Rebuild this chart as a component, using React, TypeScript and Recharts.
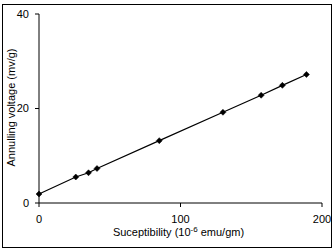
import { LineChart, Line, XAxis, YAxis } from "recharts";

const susceptibility = [0, 26, 35, 41, 85, 130, 157, 172, 189];
const voltage = [1.9, 5.5, 6.4, 7.3, 13.2, 19.2, 22.8, 24.9, 27.2];
const xTicks = [0, 100, 200];
const yTicks = [0, 20, 40];

const data = susceptibility.map((x, i) => ({ x, y: voltage[i] }));

const font = "'Liberation Sans', Arial, sans-serif";

const Diamond = (props: any) => {
  const { cx, cy, index } = props;
  if (cx == null || cy == null) return null;
  const r = 3;
  return (
    <path
      key={`d-${index}`}
      d={`M${cx} ${cy - r} L${cx + r} ${cy} L${cx} ${cy + r} L${cx - r} ${cy} Z`}
      fill="#000"
      stroke="#000"
      strokeWidth={0.5}
    />
  );
};

const YLabel = (props: any) => {
  const vb = props.viewBox || {};
  const cx = 11;
  const cy = vb.y + vb.height / 2 - 1;
  return (
    <text
      x={cx}
      y={cy}
      transform={`rotate(-90 ${cx} ${cy})`}
      textAnchor="middle"
      dominantBaseline="central"
      fontSize={11}
      fontFamily={font}
      fill="#000"
    >
      Annulling voltage (mv/g)
    </text>
  );
};

const XLabel = (props: any) => {
  const vb = props.viewBox || {};
  const cx = vb.x + vb.width / 2 - 2;
  return (
    <text x={cx} y={236} textAnchor="middle" fontSize={11} fontFamily={font} fill="#000">
      <tspan>Suceptibility (10</tspan>
      <tspan dy={-4} fontSize={8}>-6</tspan>
      <tspan dy={4}> emu/gm)</tspan>
    </text>
  );
};

const App = () => {
  return (
    <div style={{ position: "absolute", left: 0, top: 0, width: 336, height: 252, background: "#fff" }}>
      <div
        style={{
          position: "absolute",
          left: 2,
          top: 4,
          width: 328,
          height: 242,
          border: "1px solid #000",
        }}
      />
      <div style={{ position: "absolute", left: 0, top: 0 }}>
        <LineChart
          width={336}
          height={252}
          data={data}
          margin={{ top: 14, right: 14, left: 0, bottom: 0 }}
        >
          <XAxis
            dataKey="x"
            type="number"
            domain={[0, 200]}
            ticks={xTicks}
            height={49}
            tickSize={4}
            tickMargin={8}
            axisLine={{ stroke: "#000" }}
            tickLine={{ stroke: "#000" }}
            tick={{ fontSize: 11, fill: "#000", fontFamily: font }}
            label={{ content: XLabel }}
          />
          <YAxis
            type="number"
            domain={[0, 40]}
            ticks={yTicks}
            width={39}
            tickSize={4}
            tickMargin={6}
            axisLine={{ stroke: "#000" }}
            tickLine={{ stroke: "#000" }}
            tick={{ fontSize: 11, fill: "#000", fontFamily: font }}
            label={{ content: YLabel }}
          />
          <Line
            dataKey="y"
            type="linear"
            stroke="#000"
            strokeWidth={1.2}
            dot={Diamond}
            activeDot={false}
            isAnimationActive={false}
          />
        </LineChart>
      </div>
    </div>
  );
};

export default App;
